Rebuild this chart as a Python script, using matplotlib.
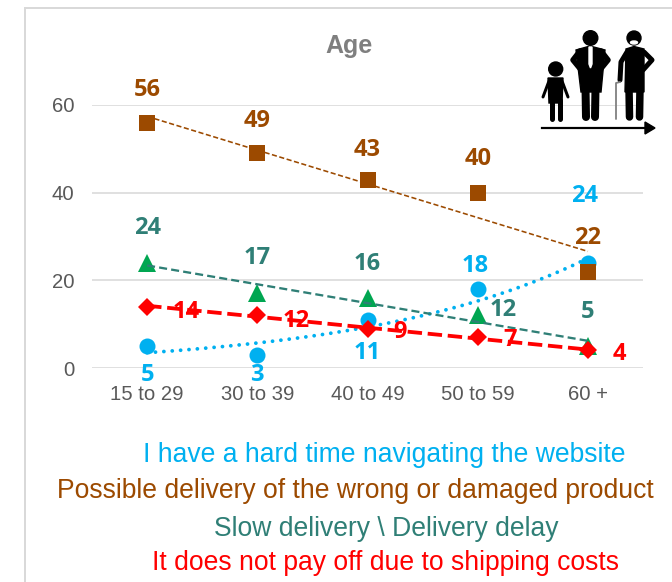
import numpy as np
import matplotlib
matplotlib.use("Agg")
import matplotlib.pyplot as plt
from matplotlib.patches import Circle, Polygon, Ellipse

W, H = 672, 582
px = 0.72  # one pixel in points at dpi 100

categories = ["15 to 29", "30 to 39", "40 to 49", "50 to 59", "60 +"]
yticks = [0, 20, 40, 60]
website = [5, 3, 11, 18, 24]
wrong_product = [56, 49, 43, 40, 22]
slow_delivery = [24, 17, 16, 12, 5]
shipping_costs = [14, 12, 9, 7, 4]

legend_lines = [
    "I have a hard time navigating the website",
    "Possible delivery of the wrong or damaged product",
    "Slow delivery \\ Delivery delay",
    "It does not pay off due to shipping costs",
]

BLUE = "#00b0f0"
BROWN = "#9c4a00"
TEAL = "#2f7f76"
GREEN = "#00a651"
RED = "#ff0000"
GRID = "#d9d9d9"

plt.rcParams["font.family"] = ["Liberation Sans", "DejaVu Sans"]

fig = plt.figure(figsize=(W / 100, H / 100), dpi=100, facecolor="white")
ax = fig.add_axes([92 / W, 1 - 368 / H, (643 - 92) / W, (368 - 105) / H])
x = np.arange(len(categories))

# trendlines, fitted from the series like the spreadsheet does
t = np.array([x[0], x[-1]])
tt = np.linspace(x[0], x[-1], 60)
for vals, col, lw, dash in [
    (wrong_product, BROWN, 1.6, (3.2, 1.6)),
    (slow_delivery, TEAL, 2.3, (3.5, 1.8)),
    (shipping_costs, RED, 3.8, (3.8, 1.5)),
]:
    m, b = np.polyfit(x, vals, 1)
    ax.plot(t, m * t + b, color=col, lw=lw * px, linestyle=(0, dash), zorder=4, clip_on=False)
m, b = np.polyfit(x, np.log(website), 1)
ax.plot(tt, np.exp(m * tt + b), color=BLUE, lw=3.8 * px, linestyle=(0, (0.01, 2.2)),
        dash_capstyle="round", zorder=3, clip_on=False)

ax.plot(x, website, "o", color=BLUE, ms=16 * px, mew=0, zorder=3, clip_on=False)
ax.plot(x, wrong_product, "s", color=BROWN, ms=16 * px, mew=0, zorder=3.5, clip_on=False)
ax.plot(x, slow_delivery, "^", color=GREEN, ms=18 * px, mew=0, zorder=3.6, clip_on=False)
ax.plot(x, shipping_costs, "D", color=RED, ms=12.8 * px, mew=0, zorder=5, clip_on=False)

ax.set_xlim(-0.5, 4.5)
ax.set_ylim(0, 60)
ax.set_xticks(x, categories)
ax.set_yticks(yticks)
ax.tick_params(length=0, labelcolor="#595959", labelsize=14.6)
ax.tick_params(axis="x", pad=17 * px)
ax.tick_params(axis="y", pad=18 * px)
ax.grid(axis="y", color=GRID, lw=1.6 * px)
ax.set_axisbelow(True)
for s in ax.spines.values():
    s.set_visible(False)

# data labels, offsets in pixels from the marker
offsets = {
    "website": [(0, -27), (0, -18), (0, -31), (-3, 25), (-3, 69)],
    "wrong": [(0, 35), (0, 34), (0, 32), (0, 36), (0, 36)],
    "slow": [(0, 37), (0, 37), (0, 36), (25, 7), (0, 36)],
    "ship": [(39, -3), (39, -4), (32, -1), (32, -1), (31, -2)],
}
for vals, key, col in [
    (website, "website", BLUE),
    (wrong_product, "wrong", BROWN),
    (slow_delivery, "slow", TEAL),
    (shipping_costs, "ship", RED),
]:
    for xi, v, (dx, dy) in zip(x, vals, offsets[key]):
        ax.annotate(str(v), (xi, v), xytext=(dx * px, (dy - 2) * px), textcoords="offset points",
                    ha="center", va="center", color=col, fontsize=17, fontweight="bold",
                    family=["Open Sans", "DejaVu Sans"], zorder=6, annotation_clip=False)

# overlay in pixel coordinates for frame, title, legend text and the icon
ov = fig.add_axes([0, 0, 1, 1], facecolor="none")
ov.set_xlim(0, W)
ov.set_ylim(H, 0)
ov.axis("off")
ov.plot([24.5, 24.5, W], [H, 7.5, 7.5], color=GRID, lw=2 * px, solid_joinstyle="miter")
ov.text(349, 46, "Age", ha="center", va="center", color="#7f7f7f", fontsize=18, fontweight="bold")
for txt, col, cx, cy in zip(legend_lines, [BLUE, BROWN, TEAL, RED],
                            [384, 355, 386, 386], [455, 491, 529, 563]):
    ov.text(cx, cy, txt, ha="center", va="center", color=col, fontsize=19.1)

K = "black"


def limb(xs, ys, w, col=K):
    ov.plot(xs, ys, color=col, lw=w * px, solid_capstyle="round", solid_joinstyle="round")


# child
ov.add_patch(Circle((555.7, 69), 7, color=K))
ov.add_patch(Polygon([(548, 78), (563, 78), (562, 103), (549, 103)], color=K))
limb([549, 543], [81, 97], 3)
limb([562, 568], [81, 97], 3)
limb([552, 552], [100, 119], 5)
limb([559.5, 559.5], [100, 119], 5)

# man with tie
ov.add_patch(Circle((590.5, 38), 7.3, color=K))
ov.add_patch(Polygon([(576, 50), (590, 46), (605, 50), (601, 92), (581, 92)], color=K))
limb([580, 573, 582], [51, 60, 71], 5.5)
limb([601, 608, 599], [51, 60, 71], 5.5)
limb([585.5, 586], [88, 117], 8)
limb([595.5, 595], [88, 117], 8)
ov.add_patch(Polygon([(589, 47), (592, 47), (592, 64), (590.5, 68), (589, 64)], color="white"))

# old man with cane
ov.add_patch(Circle((634, 38), 7, color=K))
ov.add_patch(Ellipse((634, 42.5), 7, 3, color="white"))
ov.add_patch(Polygon([(626, 49), (634, 46.5), (644, 49), (644, 92), (625, 92)], color=K))
limb([627, 621, 620], [52, 62, 80], 5)
limb([644, 652, 643], [52, 60, 70], 5)
limb([629, 629.5], [88, 117], 7.5)
limb([640, 639.5], [88, 117], 7.5)
limb([616, 616, 620], [119, 83, 82], 1.8, "#808080")

# arrow under the figures
ov.plot([542, 648], [128, 128], color=K, lw=2.2 * px)
ov.add_patch(Polygon([(645, 122), (655, 128), (645, 134)], color=K))

fig.savefig("out.png", dpi=100)
